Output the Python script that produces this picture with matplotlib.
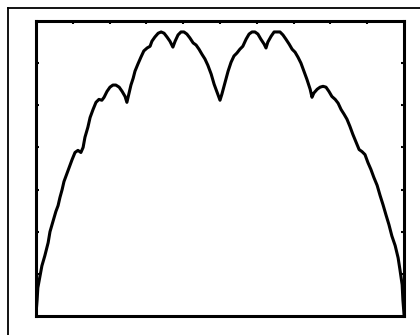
import matplotlib
matplotlib.use('Agg')
import matplotlib.pyplot as plt
import matplotlib.transforms as mtransforms
from matplotlib.lines import Line2D

# curve (x: 0..10, y: 0..7)
x_vals = [0.00, 0.03, 0.05, 0.11, 0.16, 0.24, 0.33, 0.38, 0.46, 0.54, 0.60, 0.65, 0.71, 0.76,
          0.84, 0.92, 0.98, 1.06, 1.14, 1.22, 1.28, 1.33, 1.41, 1.47, 1.55, 1.63, 1.71, 1.79,
          1.85, 1.93, 2.01, 2.09, 2.17, 2.26, 2.34, 2.42, 2.47, 2.53, 2.58, 2.64, 2.69, 2.77,
          2.85, 2.93, 3.02, 3.10, 3.15, 3.23, 3.32, 3.40, 3.48, 3.56, 3.64, 3.72, 3.78, 3.86,
          3.94, 4.02, 4.10, 4.18, 4.27, 4.35, 4.43, 4.51, 4.59, 4.67, 4.76, 4.84, 4.92, 5.00,
          5.05, 5.14, 5.22, 5.30, 5.38, 5.46, 5.54, 5.62, 5.71, 5.79, 5.87, 5.95, 6.03, 6.11,
          6.20, 6.25, 6.30, 6.39, 6.47, 6.55, 6.63, 6.71, 6.79, 6.88, 6.96, 7.04, 7.12, 7.20,
          7.28, 7.36, 7.45, 7.50, 7.55, 7.64, 7.72, 7.80, 7.88, 7.96, 8.04, 8.13, 8.21, 8.29,
          8.37, 8.45, 8.53, 8.61, 8.70, 8.78, 8.86, 8.94, 9.02, 9.10, 9.18, 9.27, 9.35, 9.43,
          9.51, 9.59, 9.67, 9.76, 9.84, 9.89, 9.95, 9.97, 10.00]
y_vals = [0.05, 0.38, 0.67, 0.95, 1.19, 1.43, 1.74, 2.00, 2.24, 2.48, 2.62, 2.81, 3.00, 3.19,
          3.38, 3.57, 3.71, 3.88, 3.93, 3.88, 4.00, 4.24, 4.48, 4.71, 4.90, 5.07, 5.14, 5.12,
          5.19, 5.33, 5.43, 5.48, 5.48, 5.43, 5.33, 5.21, 5.07, 5.29, 5.48, 5.64, 5.81, 5.98,
          6.14, 6.29, 6.36, 6.40, 6.52, 6.62, 6.71, 6.74, 6.71, 6.62, 6.52, 6.38, 6.52, 6.67,
          6.74, 6.74, 6.69, 6.60, 6.48, 6.43, 6.33, 6.21, 6.10, 5.95, 5.74, 5.50, 5.31, 5.12,
          5.26, 5.55, 5.81, 6.02, 6.17, 6.24, 6.33, 6.40, 6.57, 6.69, 6.74, 6.74, 6.69, 6.57,
          6.45, 6.36, 6.50, 6.64, 6.74, 6.74, 6.74, 6.67, 6.57, 6.45, 6.33, 6.26, 6.14, 6.00,
          5.81, 5.62, 5.38, 5.19, 5.29, 5.38, 5.43, 5.45, 5.43, 5.33, 5.21, 5.14, 5.05, 4.90,
          4.79, 4.67, 4.50, 4.31, 4.12, 3.95, 3.90, 3.83, 3.64, 3.48, 3.29, 3.10, 2.86, 2.64,
          2.40, 2.17, 1.90, 1.67, 1.38, 1.10, 0.74, 0.38, 0.05]

x_ticks = [1, 2, 3, 4, 5, 6, 7, 8, 9]
y_ticks = [1, 2, 3, 4, 5, 6]

fig = plt.figure(figsize=(4.2, 3.35), dpi=100)
ax = fig.add_axes([36 / 420, 19 / 335, 368 / 420, 295 / 335])

ax.plot(x_vals, y_vals, color='black', linewidth=2.2)
ax.set_xlim(0, 10)
ax.set_ylim(0, 7)

for s in ax.spines.values():
    s.set_linewidth(2.2)
ax.set_xticks(x_ticks)
ax.set_yticks(y_ticks)
ax.tick_params(direction='in', length=2.5, width=1.5, top=True, right=True,
               labelbottom=False, labelleft=False)
ax.tick_params(axis='x', bottom=False)

# the scanned spines show a small break just beside each tick
up = mtransforms.ScaledTranslation(0, 2 / 72, fig.dpi_scale_trans)
side = mtransforms.ScaledTranslation(-2 / 72, 0, fig.dpi_scale_trans)
ytr = ax.get_yaxis_transform() + up
xtr = ax.get_xaxis_transform() + side
for yt in y_ticks:
    for xa in (0, 1):
        ax.plot([xa - 0.006, xa + 0.006], [yt, yt], color='white', linewidth=0.9,
                transform=ytr, clip_on=False, solid_capstyle='butt')
for xt in x_ticks:
    ax.plot([xt, xt], [0.992, 1.008], color='white', linewidth=0.9,
            transform=xtr, clip_on=False, solid_capstyle='butt')

# outer frame of the scanned figure, runs off the right and bottom edges
fig.add_artist(Line2D([8 / 420, 1.0], [1 - 8 / 335, 1 - 8 / 335],
                      color='black', linewidth=1.3, transform=fig.transFigure))
fig.add_artist(Line2D([8 / 420, 8 / 420], [0.0, 1 - 8 / 335],
                      color='black', linewidth=1.3, transform=fig.transFigure))

fig.savefig('out.png', dpi=100)
